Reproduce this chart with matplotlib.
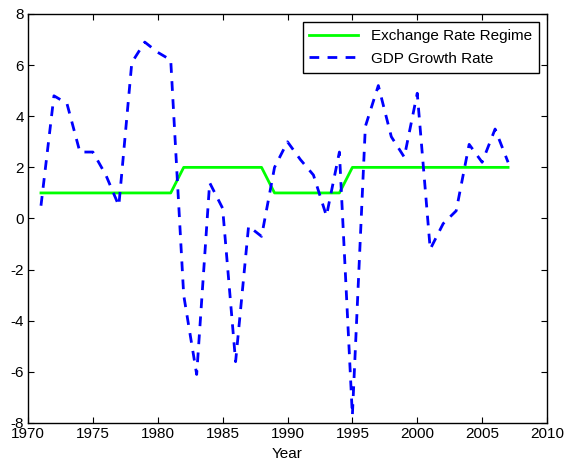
import numpy as np
import matplotlib.pyplot as plt

plt.rcParams['font.family'] = ['Liberation Sans', 'DejaVu Sans']
plt.rcParams['axes.unicode_minus'] = False

years = list(range(1971, 2008))
regime = [1]*11 + [2]*7 + [1]*6 + [2]*13
gdp = [0.5, 4.8, 4.5, 2.6, 2.6, 1.7, 0.5, 6.1, 6.9, 6.5, 6.2,
       -3.0, -6.1, 1.4, 0.4, -5.6, -0.3, -0.7, 2.0, 3.0, 2.3, 1.7, 0.1, 2.6,
       -7.7, 3.6, 5.2, 3.2, 2.4, 4.9, -1.2, -0.2, 0.3, 2.9, 2.2, 3.5, 2.2]

fig = plt.figure(figsize=(5.66, 4.69), dpi=100)
ax = fig.add_axes([28/566, 1-423/469, (547-28)/566, (423-14)/469])

ax.plot(years, regime, color='#00ff00', lw=2, label='Exchange Rate Regime')
ax.plot(years, gdp, color='blue', lw=2, ls=(0, (3.5, 3)), label='GDP Growth Rate')

ax.set_xlim(1970, 2010)
ax.set_ylim(-8, 8)
ax.set_xticks(range(1970, 2011, 5))
ax.set_yticks(range(-8, 9, 2))
for s in ax.spines.values():
    s.set_linewidth(1.0)
ax.tick_params(direction='in', top=True, right=True, length=4, labelsize=11, pad=3)
ax.set_xlabel('Year', fontsize=11, labelpad=4)

leg = ax.legend(loc='upper right', fontsize=11, fancybox=False, framealpha=1,
                edgecolor='black', borderaxespad=0.55, handlelength=3.2,
                labelspacing=0.55, borderpad=0.45)
leg.get_frame().set_linewidth(1.0)

fig.savefig('out.png', dpi=100)
